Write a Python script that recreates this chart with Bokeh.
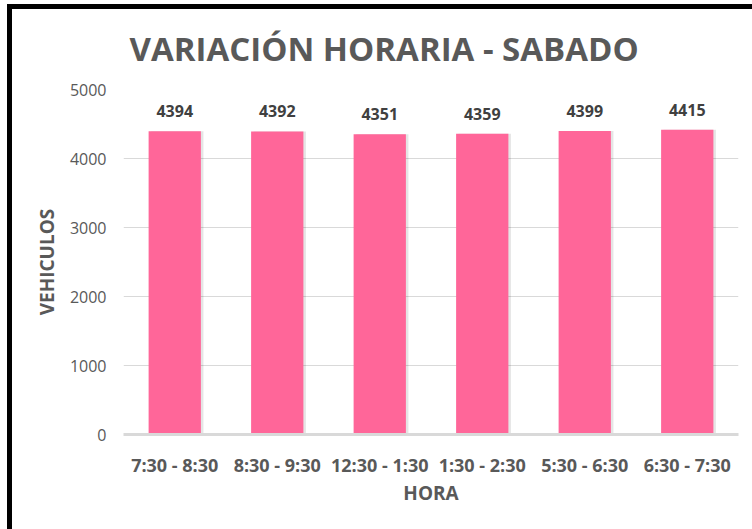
from bokeh.plotting import figure
from bokeh.models import ColumnDataSource, LabelSet, FixedTicker, Range1d, InlineStyleSheet, Title
from bokeh.core.properties import value
from bokeh.transform import dodge
from bokeh.embed import file_html
from bokeh.resources import INLINE

# Vehicle counts per time slot (Saturday)
horas = ["7:30 - 8:30", "8:30 - 9:30", "12:30 - 1:30", "1:30 - 2:30", "5:30 - 6:30", "6:30 - 7:30"]
vehiculos = [4394, 4392, 4351, 4359, 4399, 4415]
y_ticks = [0, 1000, 2000, 3000, 4000, 5000]

TEXT = "#595959"
BAR = "#FF6699"
GRID = "#D9D9D9"
FONT = "Open Sans"

src = ColumnDataSource(dict(hora=horas, n=vehiculos, lbl=[str(v) for v in vehiculos]))

p = figure(width=752, height=529, x_range=horas, y_range=Range1d(0, 5000),
           output_backend="svg", toolbar_location=None,
           min_border_left=123, min_border_right=14, min_border_top=89, min_border_bottom=95)
p.outline_line_color = None
p.background_fill_color = "white"
p.border_fill_color = "white"

# soft shadow behind each bar
p.vbar(x=dodge("hora", 0.025, range=p.x_range), top="n", width=0.51, source=src,
       fill_color="#000000", fill_alpha=0.10, line_color=None)
p.vbar(x="hora", top="n", width=0.51, source=src, fill_color=BAR, line_color=None)

p.add_layout(LabelSet(x="hora", y="n", text="lbl", source=src, y_offset=20,
                      text_align="center", text_baseline="middle",
                      text_font=value(FONT), text_font_style="bold", text_font_size="16px",
                      text_color="#404040"))

p.yaxis.ticker = FixedTicker(ticks=y_ticks)
p.yaxis.axis_line_color = None
p.yaxis.major_tick_line_color = None
p.yaxis.minor_tick_line_color = None
p.yaxis.major_label_text_font = FONT
p.yaxis.major_label_text_font_size = "16px"
p.yaxis.major_label_text_color = TEXT
p.yaxis.major_label_standoff = 11
p.yaxis.axis_label = "VEHICULOS"
p.yaxis.axis_label_text_font = FONT
p.yaxis.axis_label_text_font_style = "bold"
p.yaxis.axis_label_text_font_size = "19px"
p.yaxis.axis_label_text_color = TEXT
p.yaxis.axis_label_standoff = 7

p.xaxis.axis_line_color = GRID
p.xaxis.axis_line_width = 3
p.xaxis.major_tick_line_color = None
p.xaxis.minor_tick_line_color = None
p.xaxis.major_label_text_font = FONT
p.xaxis.major_label_text_font_style = "bold"
p.xaxis.major_label_text_font_size = "18px"
p.xaxis.major_label_text_color = TEXT
p.xaxis.major_label_standoff = 12
p.xaxis.axis_label = "HORA"
p.xaxis.axis_label_text_font = FONT
p.xaxis.axis_label_text_font_style = "bold"
p.xaxis.axis_label_text_font_size = "19px"
p.xaxis.axis_label_text_color = TEXT
p.xaxis.axis_label_standoff = 0

p.xgrid.grid_line_color = None
p.ygrid.grid_line_color = GRID
p.ygrid.grid_line_width = 1

p.add_layout(Title(text="VARIACIÓN HORARIA - SABADO", align="left", offset=6,
                   standoff=38, text_font=FONT, text_font_style="bold",
                   text_font_size="33px", text_color=TEXT), "above")

# black frame along the left and top edges of the page
p.stylesheets = [InlineStyleSheet(css="""
:host { position: relative; }
:host::after {
  content: ""; position: absolute; left: 7px; top: 4px; right: 0; bottom: 0;
  border-left: 5px solid black; border-top: 5px solid black;
  pointer-events: none;
}
""")]

open("out.html", "w").write(file_html(p, INLINE))
